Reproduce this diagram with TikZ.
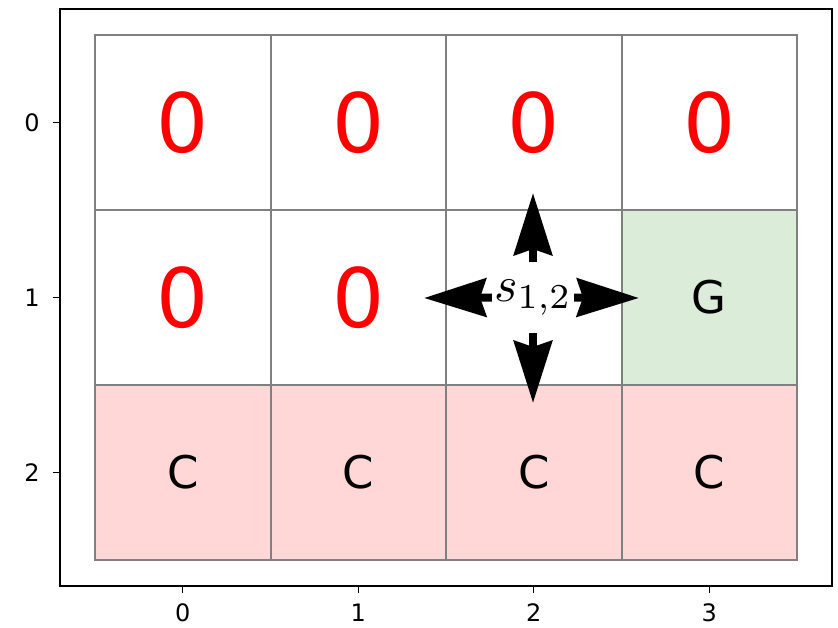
\documentclass[tikz,border=0pt]{standalone}
\usepackage{fontspec}
\setmainfont{DejaVu Sans}
\usepackage{xcolor}
\usetikzlibrary{arrows.meta, positioning}

\definecolor{gridgray}{RGB}{128,128,128}
\definecolor{cliffred}{RGB}{255,215,215}
\definecolor{goalgreen}{RGB}{219,237,216}

\begin{document}
\begin{tikzpicture}[
      x = 1pt, y = -1pt,
      cell/.style    = {draw = gridgray, line width = 2pt, minimum width = 175.5pt,
                        minimum height = 175pt, inner sep = 0pt},
      zero/.style    = {text = red, font = \fontsize{82}{82}\selectfont},
      lbl/.style     = {font = \fontsize{45}{45}\selectfont},
      tk/.style      = {line width = 1.2pt},
      ticklbl/.style = {font = \fontsize{24}{24}\selectfont, inner sep = 0pt},
      arr/.style     = {-{Stealth[length = 62pt, width = 38pt, inset = 6pt]}, line width = 8pt},
      agent/.style   = {minimum width = 82pt, minimum height = 71pt, inner sep = 0pt}
    ]
  \useasboundingbox (0,0) rectangle (838,627);

  % ---------- grid cells ------------------------------------------------
  \foreach \c in {0,...,3}
    \node[cell, zero] (c-0-\c) at ({182.75+175.5*\c},122.5) {0};
  \foreach \c in {0,1}
    \node[cell, zero] (c-1-\c) at ({182.75+175.5*\c},297.5) {0};
  \node[cell] (c-1-2) at (533.75,297.5) {};
  \node[cell, lbl, fill = goalgreen] (c-1-3) at (709.25,297.5) {G};
  \foreach \c in {0,...,3}
    \node[cell, lbl, fill = cliffred] (c-2-\c) at ({182.75+175.5*\c},472.5) {C};

  % ---------- state and its moves ---------------------------------------
  \node[agent] (s12) at (533,297.5) {\scalebox{5}{$s_{1,2}$}};
  \coordinate (mv-up)    at (533,193);
  \coordinate (mv-down)  at (533,403);
  \coordinate (mv-left)  at (424,298);
  \coordinate (mv-right) at (639,298);
  \draw[arr] (s12.north) -- (mv-up);
  \draw[arr] (s12.south) -- (mv-down);
  \draw[arr] (s12.west)  -- (mv-left);
  \draw[arr] (s12.east)  -- (mv-right);

  % ---------- axes ------------------------------------------------------
  \draw[line width = 1.5pt] (60,9) rectangle (832,586);
  \foreach \r/\y in {0/122.5, 1/297.5, 2/472.5} {
    \draw[tk] (60,\y) -- (53,\y);
    \node[ticklbl] (yl-\r) at (32,\y) {\r};
  }
  \foreach \c in {0,...,3} {
    \draw[tk] ({182.75+175.5*\c},586) -- ({182.75+175.5*\c},593);
    \node[ticklbl] (xl-\c) at ({182.75+175.5*\c},613) {\c};
  }

\end{tikzpicture}
\end{document}
